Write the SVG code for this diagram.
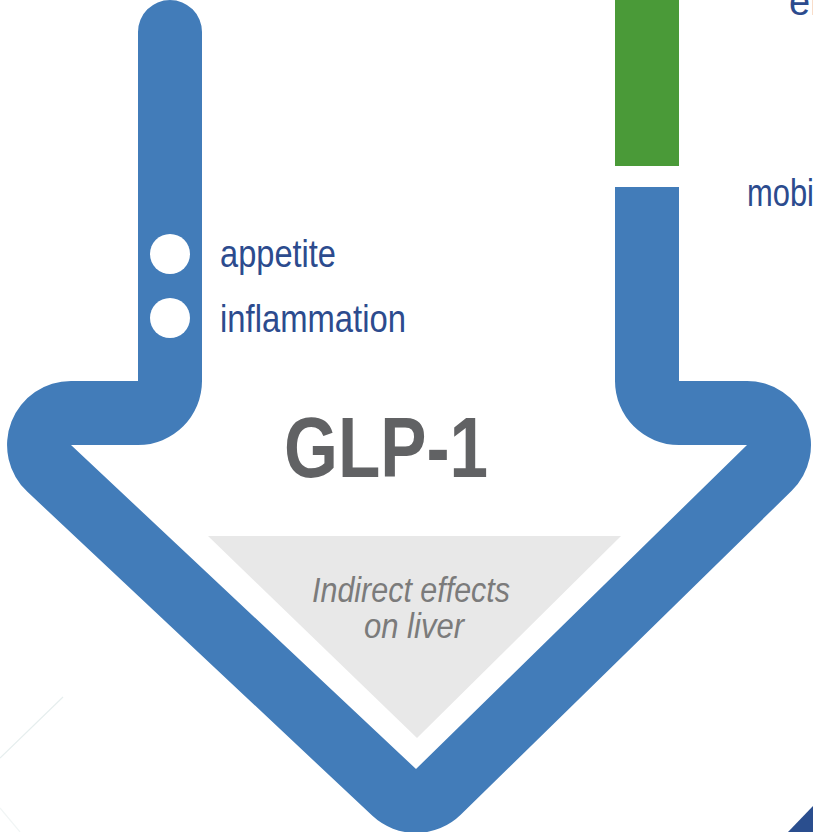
<svg xmlns="http://www.w3.org/2000/svg" width="813" height="832" viewBox="0 0 813 832">
  <style>
    .pipe { fill: #427cb9; }
    .lbl { font-family: "Liberation Sans Narrow", "Liberation Sans", Arial, sans-serif; fill: #2c4b8e; font-size: 38px; }
    .dot { fill: #ffffff; }
  </style>
  <rect x="0" y="0" width="813" height="832" fill="#ffffff"/>
  <g id="background-marks">
    <line x1="63" y1="697" x2="0" y2="758" stroke="#e6eeee" stroke-width="1.2"/>
    <line x1="0" y1="808" x2="20" y2="832" stroke="#f1f5f5" stroke-width="1.2"/>
    <polygon points="788,832 813,806 813,832" fill="#2a4e8e"/>
  </g>
  <g id="glp1-arrow">
    <path class="pipe" d="M138,32 A32,32 0 0 1 202,32 L202,381 A64,64 0 0 1 138,445 L71,445 L416,769 L747,445 L679,445 A64,64 0 0 1 615,381 L615,187 L679,187 L679,381 L747,381 A64,64 0 0 1 791.7,490.8 L460.7,814.8 A64,64 0 0 1 372.4,815.8 L27.4,491.8 A64,64 0 0 1 71,381 L138,381 Z"/>
    <rect x="615" y="-2" width="64" height="168" fill="#4a9a38"/>
  </g>
  <g id="liver-effects">
    <polygon points="208,536 621,536 417,738" fill="#e8e8e8"/>
    <text x="411" y="602" text-anchor="middle" font-family="Liberation Sans Narrow, Liberation Sans, Arial, sans-serif" font-style="italic" font-size="35" fill="#7b7b7b" textLength="198" lengthAdjust="spacingAndGlyphs">Indirect effects</text>
    <text x="414" y="638" text-anchor="middle" font-family="Liberation Sans Narrow, Liberation Sans, Arial, sans-serif" font-style="italic" font-size="35" fill="#7b7b7b" textLength="100" lengthAdjust="spacingAndGlyphs">on liver</text>
  </g>
  <g id="glp1-title">
    <text x="284" y="477" font-family="Liberation Sans Narrow, Liberation Sans, Arial, sans-serif" font-weight="bold" font-size="86" fill="#616264" textLength="204" lengthAdjust="spacingAndGlyphs">GLP-1</text>
  </g>
  <g id="node-appetite">
    <circle class="dot" cx="170" cy="254" r="20"/>
    <text class="lbl" x="220" y="267" textLength="116" lengthAdjust="spacingAndGlyphs">appetite</text>
  </g>
  <g id="node-inflammation">
    <circle class="dot" cx="170" cy="318" r="20"/>
    <text class="lbl" x="220" y="332" textLength="186" lengthAdjust="spacingAndGlyphs">inflammation</text>
  </g>
  <g id="node-right-top">
    <text class="lbl" x="789" y="15" font-size="34">en</text>
  </g>
  <g id="node-right-mobi">
    <text class="lbl" x="747" y="206" font-size="34" textLength="67" lengthAdjust="spacingAndGlyphs">mobi</text>
  </g>
  <g id="connectors"></g>
</svg>
